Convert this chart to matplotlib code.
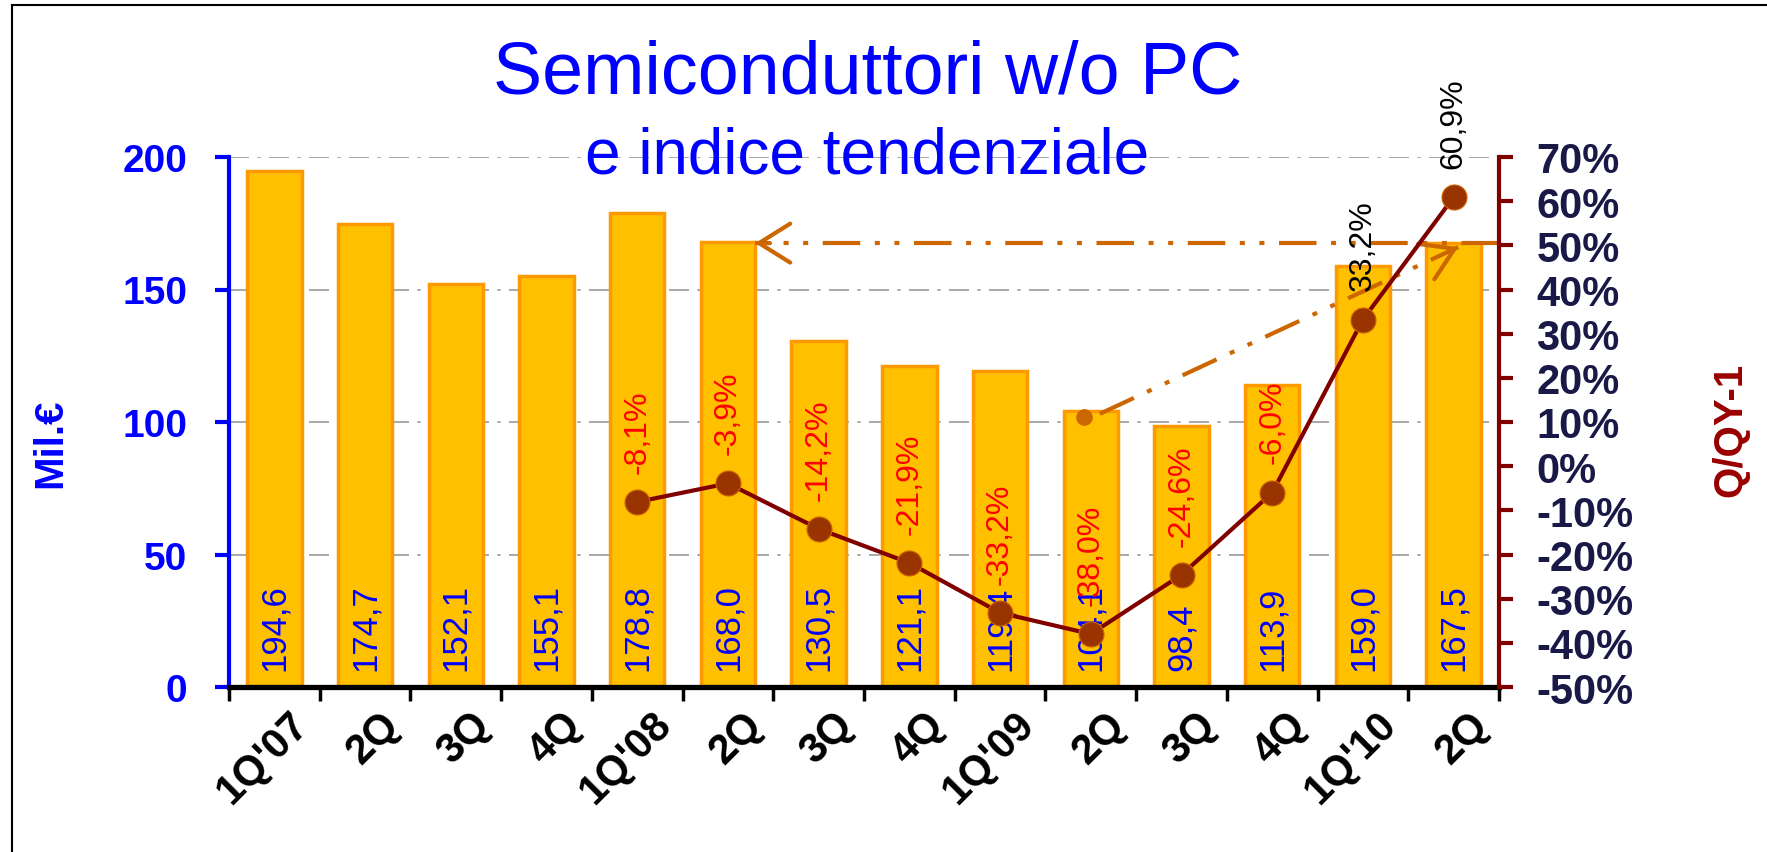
import numpy as np
import matplotlib
matplotlib.use("Agg")
import matplotlib.pyplot as plt
from matplotlib.lines import Line2D
from matplotlib.ticker import FixedLocator, FuncFormatter

plt.rcParams["font.family"] = ["Liberation Sans", "DejaVu Sans"]

# data
quarters = ["1Q'07", "2Q", "3Q", "4Q", "1Q'08", "2Q", "3Q", "4Q",
            "1Q'09", "2Q", "3Q", "4Q", "1Q'10", "2Q"]
values = [194.6, 174.7, 152.1, 155.1, 178.8, 168.0, 130.5, 121.1,
          119.4, 104.1, 98.4, 113.9, 159.0, 167.5]
value_labels = ["194,6", "174,7", "152,1", "155,1", "178,8", "168,0", "130,5",
                "121,1", "119,4", "104,1", "98,4", "113,9", "159,0", "167,5"]
trend_idx = [4, 5, 6, 7, 8, 9, 10, 11, 12, 13]
trend = [-8.1, -3.9, -14.2, -21.9, -33.2, -38.0, -24.6, -6.0, 33.2, 60.9]
trend_labels = ["-8,1%", "-3,9%", "-14,2%", "-21,9%", "-33,2%", "-38,0%",
                "-24,6%", "-6,0%", "33,2%", "60,9%"]
trend_colors = ["red"] * 8 + ["black"] * 2

# arrow annotations (index, value)
diag_start = (8.93, 101.9)
diag_end = (13.05, 166.0)
horiz_start = (13.5, 167.5)
horiz_end = (5.3, 167.5)

BAR = "#FFC000"
BAR_EDGE = "#FF9900"
ORANGE = "#CC6600"
DARKRED = "#800000"
NAVY = "#191947"

W, H = 1767, 853
fig = plt.figure(figsize=(W / 100, H / 100), dpi=100)
ax = fig.add_axes([229 / W, 1 - 688 / H, (1499 - 229) / W, (688 - 158) / H])
ax2 = ax.twinx()

x = np.arange(len(quarters))
ax.bar(x, values, width=0.6, color=BAR, edgecolor=BAR_EDGE, linewidth=2.5, zorder=2)
for xi, lab in zip(x, value_labels):
    ax.annotate(lab, (xi, 0), xytext=(0, 12), textcoords="offset points",
                rotation=90, ha="center", va="bottom", color="#0000FF",
                fontsize=25, zorder=3)

ax.set_xlim(-0.5, 13.5)
ax.set_ylim(0, 200)
ax.set_yticks([0, 50, 100, 150, 200])
ax.yaxis.grid(True, color="#999999", linewidth=1.2, linestyle=(0, (12, 5, 2, 5)), zorder=0)
ax.set_axisbelow(True)

# category labels sit slightly right of the bar centres (major ticks are hidden)
ax.set_xticks(x + 0.15)
ax.set_xticklabels(quarters, rotation=45, ha="right", va="top",
                   rotation_mode="anchor", fontsize=30, fontweight="bold")
ax.xaxis.set_minor_locator(FixedLocator(np.arange(-0.5, 14, 1.0)))
ax.tick_params(axis="x", which="major", length=0, pad=12)
ax.tick_params(axis="x", which="minor", length=10, width=2.5, color="black")
ax.tick_params(axis="y", length=10, width=3, color="#0000FF", labelcolor="#0000FF",
               labelsize=28, pad=20)
for t in ax.get_yticklabels():
    t.set_fontweight("bold")

for s in ["top", "right"]:
    ax.spines[s].set_visible(False)
ax.spines["left"].set_color("#0000FF")
ax.spines["left"].set_linewidth(3)
ax.spines["bottom"].set_color("black")
ax.spines["bottom"].set_linewidth(3.8)

# arrows
ax.plot(*diag_start, marker="o", markersize=11, color=ORANGE, zorder=4)
dashes = (0, (9, 3.5, 1.2, 3.5, 1.2, 3.5))
ax.plot([diag_start[0] + 0.17, diag_end[0]], [diag_start[1] + 1.2, diag_end[1]],
        color=ORANGE, linewidth=3, linestyle=dashes, zorder=4, solid_capstyle="butt")
ax.plot([horiz_start[0], horiz_end[0]], [horiz_start[1], horiz_end[1]],
        color=ORANGE, linewidth=3, linestyle=dashes, zorder=4)
for (x0, y0), (x1, y1) in [(diag_start, diag_end), (horiz_start, horiz_end)]:
    xs = x1 - (x1 - x0) * 0.02
    ys = y1 - (y1 - y0) * 0.02
    ax.annotate("", xy=(x1, y1), xytext=(xs, ys),
                arrowprops=dict(arrowstyle="->,head_length=0.8,head_width=0.5",
                                mutation_scale=28, color=ORANGE, lw=3,
                                shrinkA=0, shrinkB=0), zorder=5)

# trend line
ax2.plot(trend_idx, trend, color=DARKRED, linewidth=3, marker="o", markersize=18,
         markerfacecolor="#993300", markeredgecolor="#CC6600", markeredgewidth=0.8,
         zorder=6)
for xi, yi, lab, c in zip(trend_idx, trend, trend_labels, trend_colors):
    ax2.annotate(lab, (xi, yi), xytext=(0, 21), textcoords="offset points",
                 rotation=90, ha="center", va="bottom", color=c, fontsize=23)

ax2.set_ylim(-50, 70)
ax2.set_yticks(np.arange(-50, 71, 10))
ax2.yaxis.set_major_formatter(FuncFormatter(lambda v, p: f"{v:.0f}%"))
ax2.tick_params(axis="y", length=10, width=3, color=DARKRED, labelcolor=NAVY,
                labelsize=30, pad=17)
for t in ax2.get_yticklabels():
    t.set_fontweight("bold")
for s in ["top", "left", "bottom"]:
    ax2.spines[s].set_visible(False)
ax2.spines["right"].set_color(DARKRED)
ax2.spines["right"].set_linewidth(3)

# titles and axis names
fig.text(868 / W, 1 - 74 / H, "Semiconduttori w/o PC", ha="center", va="center",
         color="#0000FF", fontsize=53)
fig.text(867 / W, 1 - 157 / H, "e indice tendenziale", ha="center", va="center",
         color="#0000FF", fontsize=46)
fig.text(50 / W, 1 - 443 / H, "Mil.€", rotation=90, ha="center", va="center",
         color="#0000FF", fontsize=29, fontweight="bold")
fig.text(1730 / W, 1 - 430 / H, "Q/QY-1", rotation=90, ha="center", va="center",
         color="#990000", fontsize=29, fontweight="bold")

# outer frame (left and top edges visible)
fig.add_artist(Line2D([12 / W, 12 / W], [0, 1 - 6 / H], color="black", linewidth=1.5))
fig.add_artist(Line2D([12 / W, 1], [1 - 6 / H, 1 - 6 / H], color="black", linewidth=1.5))

fig.savefig("out.png", dpi=100)
